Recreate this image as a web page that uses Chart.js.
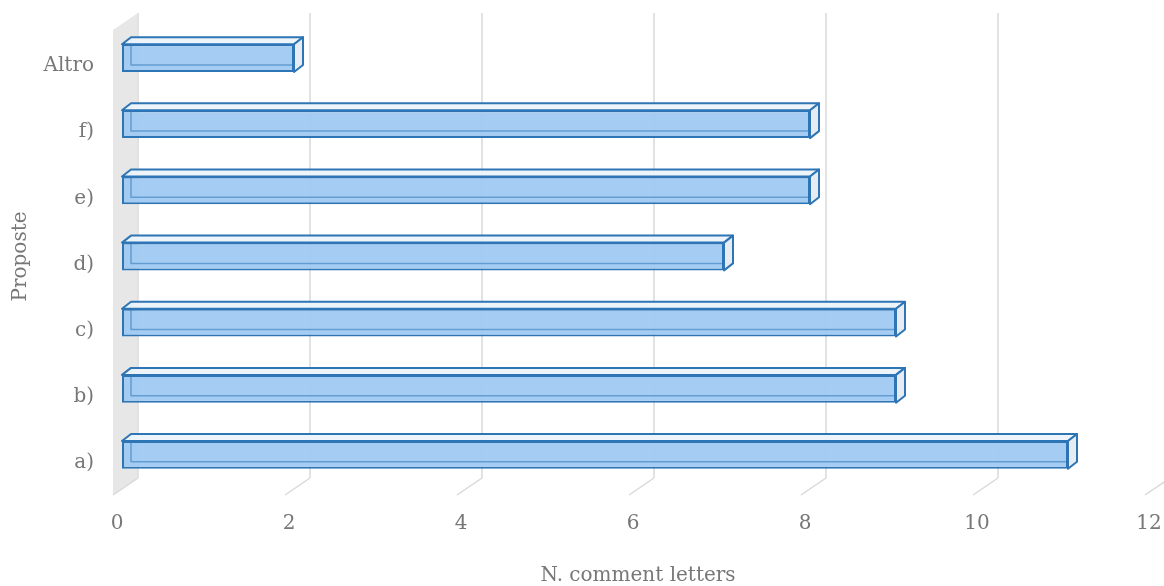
<!DOCTYPE html>
<html>
<head>
<meta charset="utf-8">
<script src="https://cdn.jsdelivr.net/npm/chart.js@4"></script>
<style>
  html,body{margin:0;padding:0;background:#fff;}
  #wrap{width:1164px;height:586px;position:relative;}
</style>
</head>
<body>
<div id="wrap"><canvas id="chart"></canvas></div>
<script>
// DATA
const categories = ["a)", "b)", "c)", "d)", "e)", "f)", "Altro"];
const letters = [11, 9, 9, 7, 8, 8, 2];
const xTicks = [0, 2, 4, 6, 8, 10, 12];
const xTitle = "N. comment letters";
const yTitle = "Proposte";

// STYLE
const FONT = "'DejaVu Serif', serif";
const TEXT = "#777777";
const DX = 9, DY = 7;          // bar depth
const WALL_DX = 16;            // back wall offset
const FLOOR_DX = -9;           // front floor edge

// 3D look: back wall, grid, floor ticks
const wallPlugin = {
  id: "wall",
  beforeDatasetsDraw(chart){
    const ctx = chart.ctx, xs = chart.scales.x;
    const top = 13, bottom = 478;
    const x0 = xs.getPixelForValue(0);
    ctx.save();
    // left wall
    ctx.fillStyle = "#e7e7e7";
    ctx.beginPath();
    ctx.moveTo(x0 + FLOOR_DX, top + 17);
    ctx.lineTo(x0 + WALL_DX, top);
    ctx.lineTo(x0 + WALL_DX, bottom);
    ctx.lineTo(x0 + FLOOR_DX, bottom + 17);
    ctx.closePath();
    ctx.fill();
    // grid lines on back wall + floor diagonals
    xTicks.forEach(v=>{
      const px = xs.getPixelForValue(v);
      ctx.strokeStyle = "#e2e2e2";
      ctx.lineWidth = 2;
      ctx.beginPath();
      ctx.moveTo(px + WALL_DX, top);
      ctx.lineTo(px + WALL_DX, bottom);
      ctx.stroke();
      ctx.strokeStyle = "#d8d8d8";
      ctx.lineWidth = 1.5;
      ctx.beginPath();
      ctx.moveTo(px + WALL_DX, bottom);
      ctx.lineTo(px + FLOOR_DX, bottom + 17);
      ctx.stroke();
    });
    ctx.restore();
  },
  afterDatasetsDraw(chart){
    const ctx = chart.ctx;
    const meta = chart.getDatasetMeta(0);
    ctx.save();
    ctx.lineJoin = "round";
    meta.data.forEach(b=>{
      const t = b.y - b.height/2, bt = b.y + b.height/2;
      // hidden back edges, seen through the box
      ctx.strokeStyle = "rgba(46,117,182,0.55)";
      ctx.lineWidth = 1.5;
      ctx.beginPath();
      ctx.moveTo(b.base + DX, t - DY);
      ctx.lineTo(b.base + DX, bt - DY);
      ctx.lineTo(b.x + DX, bt - DY);
      ctx.stroke();
      ctx.strokeStyle = "#2e75b6";
      ctx.lineWidth = 2;
      // top face
      ctx.fillStyle = "rgba(236,243,250,0.95)";
      ctx.beginPath();
      ctx.moveTo(b.base, t);
      ctx.lineTo(b.base + DX, t - DY);
      ctx.lineTo(b.x + DX, t - DY);
      ctx.lineTo(b.x, t);
      ctx.closePath();
      ctx.fill(); ctx.stroke();
      // side face
      ctx.fillStyle = "rgba(230,235,241,0.95)";
      ctx.beginPath();
      ctx.moveTo(b.x, t);
      ctx.lineTo(b.x + DX, t - DY);
      ctx.lineTo(b.x + DX, bt - DY);
      ctx.lineTo(b.x, bt);
      ctx.closePath();
      ctx.fill(); ctx.stroke();
    });
    ctx.restore();
  }
};

new Chart(document.getElementById("chart"), {
  type: "bar",
  data: {
    labels: categories,
    datasets: [{
      data: letters,
      backgroundColor: "rgba(160,202,242,0.95)",
      borderColor: "#2e75b6",
      borderWidth: 2,
      borderSkipped: false,
      categoryPercentage: 1,
      barPercentage: 0.42
    }]
  },
  options: {
    indexAxis: "y",
    responsive: true,
    maintainAspectRatio: false,
    animation: false,
    layout: { padding: { top: 25, right: 10, left: 0, bottom: 0 } },
    plugins: { legend: { display: false }, tooltip: { enabled: false } },
    scales: {
      x: {
        min: 0, max: 12,
        afterFit: s => { s.height = 98; s.paddingLeft = 0; s.paddingRight = 0; },
        afterBuildTicks: s => { s.ticks = xTicks.map(v => ({ value: v })); },
        grid: { display: false, drawTicks: false },
        border: { display: false },
        ticks: { color: TEXT, font: { family: FONT, size: 20 }, padding: 24, labelOffset: -5, maxRotation: 0 },
        title: { display: true, text: xTitle, color: TEXT, font: { family: FONT, size: 20 }, padding: { top: 0, bottom: -2 } }
      },
      y: {
        reverse: true,
        afterFit: s => { s.width = 122; s.paddingTop = 0; s.paddingBottom = 0; },
        grid: { display: false, drawTicks: false },
        border: { display: false },
        ticks: { color: TEXT, font: { family: FONT, size: 20 }, padding: 28, labelOffset: 8 },
        title: { display: true, text: yTitle, color: TEXT, font: { family: FONT, size: 20 }, padding: { top: 9, bottom: 0 } }
      }
    }
  },
  plugins: [wallPlugin]
});
</script>
</body>
</html>
